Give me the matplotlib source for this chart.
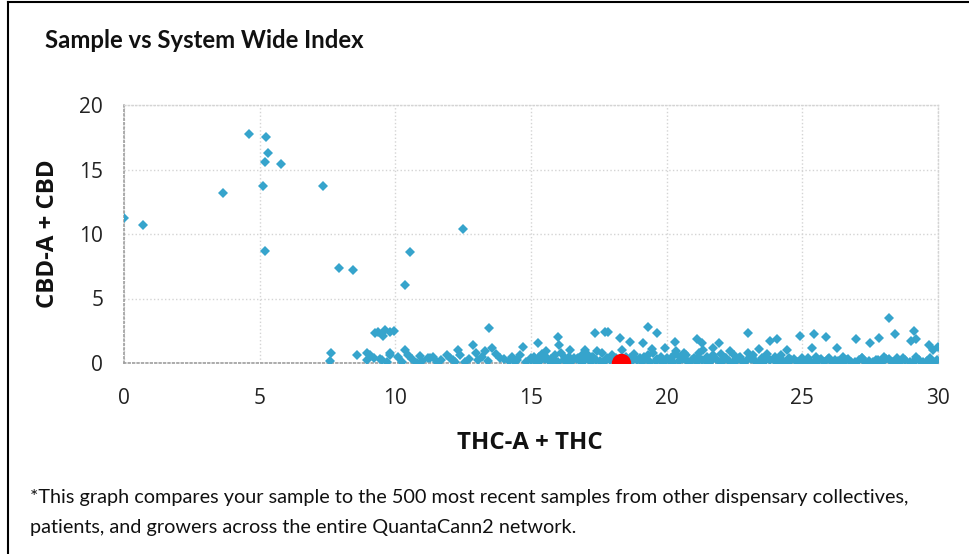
import matplotlib.pyplot as plt
from matplotlib.lines import Line2D

plt.rcParams['font.family'] = ['Open Sans', 'DejaVu Sans']

# System wide samples, upper scatter (outliers high in CBD)
high_x = [0.0, 0.7, 3.65, 4.6, 5.23, 5.3, 5.2, 5.8, 5.12, 5.2,
          7.33, 7.92, 8.44, 10.54, 10.36, 12.5]
high_y = [11.24, 10.7, 13.2, 17.75, 17.5, 16.3, 15.6, 15.4, 13.7, 8.7,
          13.7, 7.36, 7.2, 8.6, 6.05, 10.4]

# Points sitting a bit above the main band (y about 0.5 - 3.5)
mid_x = [7.63, 7.6, 8.59, 8.96, 9.07, 9.25, 9.36, 9.55, 9.62, 9.8,
         9.95, 8.96, 9.44, 9.5, 9.8, 9.8, 10.25, 10.8, 11.28, 12.13,
         12.57, 13.05, 14.2, 14.5, 10.36, 10.47, 11.2, 11.54, 11.9, 12.3,
         12.86, 12.97, 13.45, 13.56, 13.86, 14.7, 15.26, 16.0, 16.03, 17.0,
         17.36, 17.73, 17.84, 18.28, 18.65, 19.13, 19.31, 19.65, 19.94, 20.3,
         20.64, 21.12, 21.3, 21.7, 21.93, 23.0, 23.81, 24.07, 24.44, 24.92,
         25.36, 25.43, 25.88, 26.28, 26.98, 27.5, 27.83, 28.2, 28.42, 29.0,
         29.12, 29.19, 29.67, 29.82, 30.0]
mid_y = [0.78, 0.15, 0.62, 0.78, 0.62, 2.33, 2.4, 2.1, 2.56, 2.4,
         2.48, 0.23, 0.31, 0.23, 0.62, 0.78, 0.08, 0.0, 0.39, 0.23,
         0.08, 0.23, 0.15, 0.23, 1.0, 0.6, 0.4, 0.1, 0.6, 1.0,
         1.4, 0.8, 2.7, 1.16, 0.4, 1.24, 1.55, 2.0, 1.4, 1.0,
         2.33, 2.4, 2.4, 1.94, 1.63, 1.55, 2.8, 2.33, 1.16, 1.63,
         0.78, 1.86, 1.55, 1.16, 1.55, 2.33, 1.7, 1.86, 1.0, 2.1,
         1.16, 2.25, 2.0, 1.16, 1.86, 1.55, 1.94, 3.5, 2.25, 1.7,
         2.48, 1.86, 1.4, 1.0, 1.24]

# Scattered low points between 9 and 15
low_x = [9.2, 9.7, 10.1, 10.6, 11.0, 11.4, 11.7, 12.0, 12.4, 12.7,
         13.2, 13.4, 13.7, 14.0, 14.3, 14.6, 10.9, 12.2, 13.3, 14.4]
low_y = [0.4, 0.1, 0.5, 0.3, 0.15, 0.5, 0.25, 0.4, 0.6, 0.3,
         0.45, 0.15, 0.7, 0.3, 0.5, 0.65, 0.55, 0.05, 0.9, 0.1]

# Dense band near zero CBD (lower layer)
band_x = [14.8, 15.0, 15.2, 15.35, 15.5, 15.7, 15.85, 16.0, 16.2, 16.35,
          16.5, 16.7, 16.85, 17.0, 17.2, 17.4, 17.55, 17.7, 17.9, 18.05,
          18.2, 18.4, 18.6, 18.75, 18.9, 19.1, 19.25, 19.4, 19.6, 19.75,
          19.9, 20.1, 20.25, 20.45, 20.6, 20.8, 20.95, 21.1, 21.3, 21.45,
          21.6, 21.8, 21.95, 22.1, 22.3, 22.45, 22.6, 22.8, 22.95, 23.1,
          23.3, 23.45, 23.6, 23.8, 23.95, 24.1, 24.3, 24.45, 24.6, 24.8,
          24.95, 25.1, 25.3, 25.45, 25.6, 25.8, 25.95, 26.1, 26.3, 26.45,
          26.6, 26.8, 26.95, 27.1, 27.3, 27.45, 27.6, 27.8, 27.95, 28.1,
          28.3, 28.45, 28.6, 28.8, 28.95, 29.1, 29.3, 29.45, 29.6, 29.8,
          29.95]
band_y = [0.1, 0.2, 0.05, 0.15, 0.3, 0.1, 0.2, 0.05, 0.25, 0.1,
          0.15, 0.3, 0.05, 0.2, 0.1, 0.25, 0.15, 0.05, 0.2, 0.3,
          0.1, 0.15, 0.05, 0.25, 0.2, 0.1, 0.3, 0.05, 0.15, 0.2,
          0.1, 0.25, 0.05, 0.15, 0.3, 0.1, 0.2, 0.05, 0.25, 0.15,
          0.1, 0.3, 0.05, 0.2, 0.15, 0.1, 0.25, 0.05, 0.2, 0.3,
          0.1, 0.15, 0.05, 0.25, 0.2, 0.1, 0.15, 0.05, 0.2, 0.1,
          0.25, 0.05, 0.15, 0.1, 0.2, 0.05, 0.3, 0.1, 0.15, 0.05,
          0.2, 0.1, 0.05, 0.25, 0.1, 0.15, 0.05, 0.2, 0.1, 0.3,
          0.05, 0.15, 0.1, 0.2, 0.05, 0.1, 0.25, 0.05, 0.15, 0.1,
          0.2]

# Dense band, upper layer
band2_x = [15.1, 15.4, 15.6, 15.9, 16.1, 16.4, 16.6, 16.9, 17.1, 17.3,
           17.6, 17.8, 18.0, 18.5, 18.8, 19.0, 19.3, 19.5, 19.8, 20.0,
           20.3, 20.5, 20.7, 21.0, 21.2, 21.5, 21.7, 22.0, 22.2, 22.5,
           22.7, 23.0, 23.2, 23.5, 23.7, 24.0, 24.2, 24.5, 25.0, 25.5,
           26.0, 26.5, 27.2, 28.0, 28.5, 29.2, 29.7]
band2_y = [0.5, 0.7, 0.4, 0.6, 0.8, 0.5, 0.4, 0.7, 0.6, 0.5,
           0.8, 0.4, 0.6, 0.5, 0.7, 0.4, 0.6, 0.8, 0.5, 0.4,
           0.7, 0.5, 0.6, 0.4, 0.8, 0.5, 0.6, 0.7, 0.4, 0.6,
           0.5, 0.8, 0.6, 0.4, 0.7, 0.5, 0.6, 0.4, 0.4, 0.5,
           0.35, 0.45, 0.4, 0.5, 0.35, 0.45, 0.4]

# Dense band, middle fill
band3_x = [15.0, 15.3, 15.75, 16.25, 16.75, 17.25, 17.75, 18.15, 18.65, 19.15,
           19.65, 20.15, 20.65, 21.15, 21.65, 22.15, 22.65, 23.15, 23.65, 24.15,
           24.7, 25.2, 25.7, 26.2, 26.7, 27.2, 27.7, 28.2, 28.7, 29.2,
           29.7, 15.55, 16.45, 17.45, 18.35, 19.45, 20.35, 21.35, 22.35, 23.4]
band3_y = [0.35, 0.45, 0.3, 0.4, 0.35, 0.45, 0.3, 0.4, 0.35, 0.45,
           0.3, 0.4, 0.35, 0.45, 0.3, 0.4, 0.35, 0.45, 0.3, 0.4,
           0.3, 0.35, 0.3, 0.25, 0.3, 0.35, 0.25, 0.3, 0.35, 0.3,
           0.25, 0.9, 1.0, 0.95, 1.0, 1.05, 0.9, 1.0, 0.95, 1.05]

# This sample
sample_x = [18.3]
sample_y = [0.0]

x_ticks = [0, 5, 10, 15, 20, 25, 30]
y_ticks = [0, 5, 10, 15, 20]

blue = '#36A4CC'
fig = plt.figure(figsize=(9.69, 5.54), dpi=100)
ax = fig.add_axes([124 / 969, 1 - 363 / 554, 814 / 969, 258 / 554])

groups = [(band_x, band_y), (band2_x, band2_y), (band3_x, band3_y),
          (low_x, low_y), (mid_x, mid_y), (high_x, high_y)]
for xs, ys in groups:
    ax.plot(xs, ys, linestyle='none', marker='D', markersize=5.6,
            color=blue, markeredgewidth=0, zorder=3)
ax.plot(sample_x, sample_y, linestyle='none', marker='o', markersize=14,
        color='#FF0000', markeredgewidth=0, zorder=4)

ax.set_xlim(0, 30)
ax.set_ylim(0, 20)
ax.set_xticks(x_ticks)
ax.set_yticks(y_ticks)
ax.grid(True, linestyle=':', color='#D4D4D4', linewidth=1.0)
ax.set_axisbelow(True)
for side in ['left', 'bottom']:
    ax.spines[side].set_linestyle(':')
    ax.spines[side].set_color('#9E9E9E')
    ax.spines[side].set_linewidth(1.2)
for side in ['top', 'right']:
    ax.spines[side].set_linestyle(':')
    ax.spines[side].set_color('#D4D4D4')
    ax.spines[side].set_linewidth(1.0)
ax.tick_params(length=0, labelsize=15, colors='#222222')
ax.tick_params(axis='y', pad=15)
ax.tick_params(axis='x', pad=18)

fig.text(45 / 969, 1 - 40 / 554, 'Sample vs System Wide Index', family='Lato',
         fontweight='bold', fontsize=17.2, va='center', ha='left', color='#111111')
fig.text(48 / 969, 1 - 234 / 554, 'CBD-A + CBD', fontweight='bold',
         fontsize=17.3, rotation=90, va='center', ha='center', color='#111111')
fig.text(530 / 969, 1 - 443 / 554, 'THC-A + THC', fontweight='bold',
         fontsize=17.3, va='center', ha='center', color='#111111')
fig.text(30 / 969, 1 - 497 / 554,
         '*This graph compares your sample to the 500 most recent samples from other dispensary collectives,',
         family='Lato', fontsize=14.3, va='center', ha='left', color='#111111')
fig.text(30 / 969, 1 - 527 / 554,
         'patients, and growers across the entire QuantaCann2 network.',
         family='Lato', fontsize=14.3, va='center', ha='left', color='#111111')

# box border seen on the left and top of the picture
fig.add_artist(Line2D([8 / 969, 8 / 969], [0, 1 - 2 / 554], color='black', linewidth=1.5))
fig.add_artist(Line2D([8 / 969, 1], [1 - 2 / 554, 1 - 2 / 554], color='black', linewidth=1.5))

fig.savefig('out.png', dpi=100)
